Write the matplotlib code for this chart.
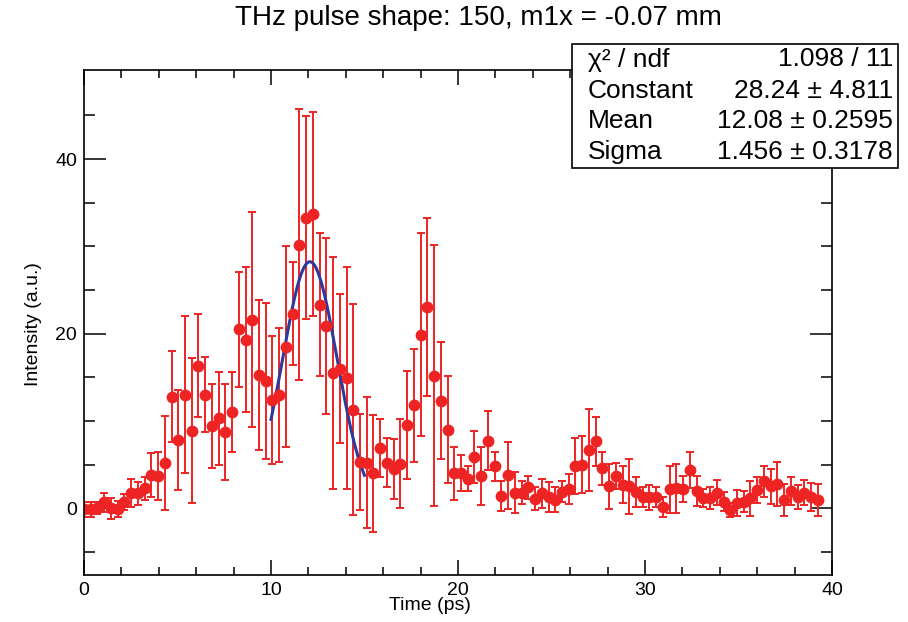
import numpy as np
import matplotlib
matplotlib.use("Agg")
import matplotlib.pyplot as plt
from matplotlib.patches import Rectangle

plt.rcParams['font.family'] = ['Liberation Sans', 'DejaVu Sans']

# measured points (time in ps, intensity in a.u., symmetric error)
time_ps = [
    0.00, 0.36, 0.72, 1.08, 1.44, 1.80, 2.16, 2.52, 2.88, 3.24,
    3.60, 3.96, 4.32, 4.68, 5.04, 5.40, 5.76, 6.12, 6.48, 6.84,
    7.20, 7.56, 7.92, 8.28, 8.64, 9.00, 9.36, 9.72, 10.08, 10.44,
    10.80, 11.16, 11.52, 11.88, 12.24, 12.60, 12.96, 13.32, 13.68, 14.04,
    14.40, 14.76, 15.12, 15.48, 15.84, 16.20, 16.56, 16.92, 17.28, 17.64,
    18.00, 18.36, 18.72, 19.08, 19.44, 19.80, 20.16, 20.52, 20.88, 21.24,
    21.60, 21.96, 22.32, 22.68, 23.04, 23.40, 23.76, 24.12, 24.48, 24.84,
    25.20, 25.56, 25.92, 26.28, 26.64, 27.00, 27.36, 27.72, 28.08, 28.44,
    28.80, 29.16, 29.52, 29.88, 30.24, 30.60, 30.96, 31.32, 31.68, 32.04,
    32.40, 32.76, 33.12, 33.48, 33.84, 34.20, 34.56, 34.92, 35.28, 35.64,
    36.00, 36.36, 36.72, 37.08, 37.44, 37.80, 38.16, 38.52, 38.88, 39.24,
]
intensity = [
    -0.1, -0.1, 0.0, 0.7, 0.0, -0.1, 0.7, 1.8, 1.7, 2.3,
    3.8, 3.7, 5.2, 12.8, 7.8, 13.0, 8.9, 16.3, 13.0, 9.4,
    10.3, 8.7, 11.0, 20.5, 19.3, 21.6, 15.3, 14.6, 12.4, 13.0,
    18.5, 22.3, 30.2, 33.3, 33.7, 23.3, 20.9, 15.5, 16.0, 14.9,
    11.3, 5.3, 5.2, 4.0, 6.9, 5.2, 4.5, 5.1, 9.5, 11.8,
    19.9, 23.1, 15.2, 12.3, 9.0, 4.0, 4.0, 3.4, 5.9, 3.7,
    7.75, 4.8, 1.4, 3.8, 1.8, 1.8, 2.4, 1.1, 1.7, 1.3,
    1.0, 1.9, 2.2, 4.85, 5.0, 6.7, 7.7, 4.6, 2.5, 3.7,
    2.7, 2.5, 1.9, 1.3, 1.26, 1.26, 0.2, 2.2, 2.3, 2.2,
    4.4, 2.0, 1.15, 1.15, 1.8, 0.76, -0.2, 0.57, 0.76, 1.15,
    2.1, 3.1, 2.5, 2.8, 0.95, 2.0, 1.3, 1.8, 1.3, 0.95,
]
error = [
    0.85, 0.85, 0.7, 1.1, 1.2, 0.9, 0.95, 1.6, 1.3, 1.3,
    2.5, 2.8, 5.4, 5.2, 5.7, 9.0, 8.3, 5.9, 4.3, 4.8,
    5.3, 5.5, 4.6, 6.6, 8.3, 12.3, 8.6, 8.9, 7.3, 7.7,
    11.5, 5.9, 15.5, 11.6, 11.7, 8.2, 10.1, 13.3, 8.5, 12.7,
    12.1, 5.5, 7.5, 6.7, 3.3, 2.8, 3.45, 5.1, 6.2, 6.5,
    11.6, 10.2, 14.9, 6.7, 6.1, 3.0, 2.05, 1.4, 3.0, 3.35,
    3.4, 1.7, 1.75, 3.85, 2.3, 1.35, 1.35, 1.3, 1.7, 1.7,
    1.45, 1.2, 1.75, 3.2, 3.3, 4.7, 2.8, 1.9, 2.6, 1.5,
    2.1, 3.15, 1.7, 1.1, 1.4, 1.15, 1.15, 2.7, 2.8, 1.5,
    2.1, 1.7, 1.05, 1.25, 1.45, 1.1, 0.8, 1.5, 1.2, 2.0,
    1.45, 1.8, 2.0, 2.5, 1.8, 1.6, 1.4, 1.4, 1.6, 1.85,
]

# gaussian fit result
fit_const, fit_const_err = 28.24, 4.811
fit_mean, fit_mean_err = 12.08, 0.2595
fit_sigma, fit_sigma_err = 1.456, 0.3178
fit_chi2, fit_ndf = 1.098, 11
fit_range = (10.0, 15.0)

W, H = 908, 622
fig = plt.figure(figsize=(W / 100, H / 100), dpi=100)

def fx(x):
    return x / W

def fy(y):
    return 1 - y / H

ax = fig.add_axes([fx(84), fy(575), fx(832) - fx(84), fy(70) - fy(575)])

red = '#ee2424'
ax.errorbar(time_ps, intensity, yerr=error, fmt='o', color=red, ecolor=red,
            markersize=7.5, elinewidth=1.4, capsize=2.8, capthick=1.4)

tf = np.linspace(fit_range[0], fit_range[1], 200)
ax.plot(tf, fit_const * np.exp(-0.5 * ((tf - fit_mean) / fit_sigma) ** 2),
        color='#2b3a9c', lw=2.2)

ax.set_xlim(0, 40)
ax.set_ylim(-7.64, 50.2)
ax.set_xticks([0, 10, 20, 30, 40])
ax.set_xticks(np.arange(0, 41, 2), minor=True)
ax.set_yticks([0, 20, 40])
ax.set_yticks(np.arange(-5, 50, 5), minor=True)

ax.tick_params(which='both', direction='in', top=True, right=True, width=1.1,
               labelsize=14)
ax.tick_params(axis='x', which='major', length=11, pad=5)
ax.tick_params(axis='x', which='minor', length=6)
ax.tick_params(axis='y', which='major', length=16, pad=5)
ax.tick_params(axis='y', which='minor', length=8)
for s in ax.spines.values():
    s.set_linewidth(1.2)

ax.set_xlabel('Time (ps)', fontsize=14, va='center')
ax.xaxis.set_label_coords((430 - 84) / 748, -(606 - 575) / 505)
ax.set_ylabel('Intensity (a.u.)', fontsize=14, va='center')
ax.yaxis.set_label_coords((33 - 84) / 748, (575 - 324) / 505)

fig.text(fx(478), fy(18), 'THz pulse shape: 150, m1x = -0.07 mm',
         fontsize=20, ha='center', va='center')

# stats box
box_top, box_bottom = 44, 168
box = Rectangle((fx(572), fy(box_bottom)), fx(898) - fx(572), fy(box_top) - fy(box_bottom),
                transform=fig.transFigure, facecolor='white', edgecolor='black',
                linewidth=1.2, zorder=5)
fig.add_artist(box)
rows = [
    ('χ² / ndf', f'{fit_chi2} / {fit_ndf}'),
    ('Constant', f'{fit_const} ± {fit_const_err}'),
    ('Mean', f'{fit_mean} ± {fit_mean_err}'),
    ('Sigma', f'{fit_sigma} ± {fit_sigma_err}'),
]
row_h = (box_bottom - box_top) / len(rows)
for k, (name, val) in enumerate(rows):
    yc = box_top + row_h * (k + 0.5)
    fig.text(fx(588), fy(yc), name, fontsize=19, ha='left', va='center', zorder=6)
    fig.text(fx(893), fy(yc), val, fontsize=19, ha='right', va='center', zorder=6)

fig.savefig('out.png', dpi=100)
